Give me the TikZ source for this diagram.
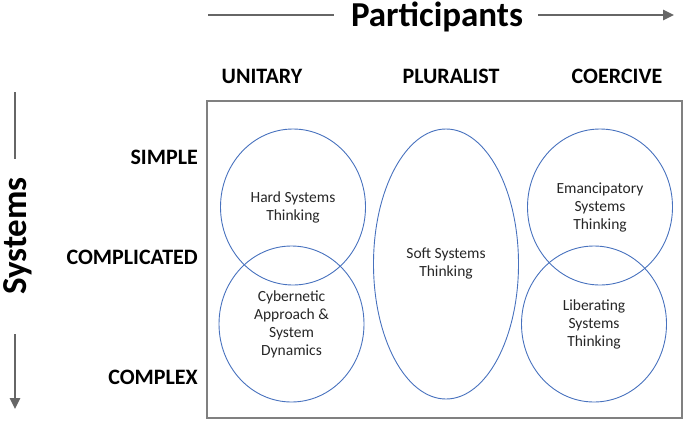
\documentclass[tikz,border=0pt]{standalone}
\usepackage{fontspec}
\setmainfont{Carlito}
\usetikzlibrary{arrows.meta,shapes.geometric}
\definecolor{framegray}{RGB}{128,128,128}
\definecolor{arrowgray}{RGB}{102,102,102}
\definecolor{ovalblue}{RGB}{72,114,190}
\begin{document}
\begin{tikzpicture}[x=1pt,y=-1pt,
  oval/.style={ellipse,draw=ovalblue,line width=0.9pt,minimum width=145pt,minimum height=156pt,
    inner sep=0pt,align=center,font=\fontsize{15.5}{18}\selectfont,text=black!85},
  axislabel/.style={font=\fontsize{35}{40}\selectfont\bfseries,inner sep=0pt},
  axisline/.style={arrowgray,line width=2.6pt},
  catlabel/.style={font=\fontsize{22}{24}\selectfont\bfseries,inner sep=0pt}]
\useasboundingbox (0,0) rectangle (685,421);
% axes
\node[axislabel,anchor=base] (ptitle) at (437,26.5) {Participants};
\coordinate (pstart) at (208,15);
\coordinate (pend) at (674,15);
\draw[axisline,shorten >=17pt] (pstart) -- (ptitle.west |- pstart);
\draw[axisline,shorten <=15pt,-{Triangle[length=11pt,width=10pt]}] (ptitle.east |- pend) -- (pend);
\node[axislabel,rotate=90,anchor=base] (stitle) at (26,236) {Systems};
\coordinate (sstart) at (15,92);
\coordinate (send) at (15,409);
\draw[axisline,shorten >=18pt] (sstart) -- (stitle.east -| sstart);
\draw[axisline,shorten <=39pt,-{Triangle[length=11pt,width=10pt]}] (stitle.west -| send) -- (send);
% column and row categories
\foreach \i/\x/\l in {u/262/UNITARY,p/451/PLURALIST,c/617/COERCIVE}{
  \node[catlabel] (col-\i) at (\x,76) {\l};}
\foreach \i/\y/\l in {s/157/SIMPLE,m/257/COMPLICATED,x/377/COMPLEX}{
  \node[catlabel,anchor=east] (row-\i) at (198,\y) {\l};}
\draw[framegray,line width=2.6pt] (207,101) rectangle (682,418);
% methodologies
\node[oval] (hard) at (293,207) {Hard Systems\\Thinking};
\node[oval] (cyber) at (291.5,324) {Cybernetic\\Approach \&\\System\\Dynamics};
\node[oval,minimum height=270pt] (soft) at (446,264) {Soft Systems\\Thinking};
\node[oval] (eman) at (600,207) {Emancipatory\\Systems\\Thinking};
\node[oval] (lib) at (594,324) {Liberating\\Systems\\Thinking};
\end{tikzpicture}
\end{document}
